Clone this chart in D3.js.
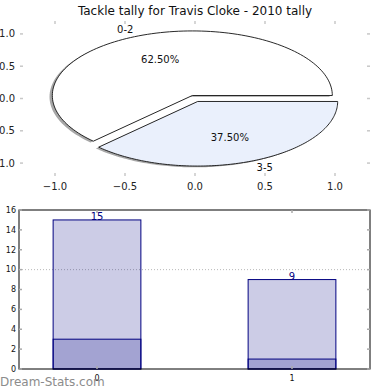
<!DOCTYPE html>
<html>
<head>
<meta charset="utf-8">
<script src="https://cdn.jsdelivr.net/npm/d3@7"></script>
<style>
html,body{margin:0;padding:0;background:#fff;}
svg{display:block;font-family:"DejaVu Sans",sans-serif;}
</style>
</head>
<body>
<svg id="chart" width="390" height="390"></svg>
<script>
const titleText = "Tackle tally for Travis Cloke - 2010 tally";
const pieLabels = ["0-2", "3-5"];
const pieValues = [62.5, 37.5];
const pieColors = ["#ffffff", "#eaf0fc"];
const pieTicks = [-1, -0.5, 0, 0.5, 1];

const barCategories = ["0", "1"];
const totalValues = [15, 9];
const lowerValues = [3, 1];
const referenceValue = 10;
const barYTicks = [0, 2, 4, 6, 8, 10, 12, 14, 16];
const watermark = "Dream-Stats.com";

const svg = d3.select("#chart");

// ---------- Pie (top) ----------
const px = d3.scaleLinear().domain([-1.25, 1.25]).range([20, 370]);
const py = d3.scaleLinear().domain([-1.2, 1.2]).range([176, 21]);

svg.append("text").attr("x", 195).attr("y", 14.5).attr("text-anchor", "middle")
  .attr("font-size", 12).attr("fill", "#111").text(titleText);

const arcs = d3.pie().sort(null).startAngle(0).endAngle(2 * Math.PI)(pieValues);
const total = d3.sum(pieValues);
const explode = 0.05;

function wedgePoints(a0, a1, cx, cy) {
  const n = 120;
  const pts = [[cx, cy]];
  for (let i = 0; i <= n; i++) {
    const t = a0 + (a1 - a0) * i / n;
    pts.push([cx + Math.cos(t), cy + Math.sin(t)]);
  }
  pts.push([cx, cy]);
  return pts;
}
const wedgeLine = d3.line().x(d => px(d[0])).y(d => py(d[1]));

const wedges = arcs.map((a, i) => {
  const mid = (a.startAngle + a.endAngle) / 2;
  const cx = explode * Math.cos(mid), cy = explode * Math.sin(mid);
  return {a, i, mid, cx, cy};
});

const defs = svg.append("defs");
defs.append("filter").attr("id", "soft").append("feGaussianBlur").attr("stdDeviation", 0.7);

// shadows
wedges.forEach(w => {
  svg.append("path")
    .attr("d", wedgeLine(wedgePoints(w.a.startAngle, w.a.endAngle, w.cx - 0.02, w.cy - 0.02)))
    .attr("fill", "#4d4d4d").attr("fill-opacity", 0.5).attr("filter", "url(#soft)");
});
// wedges
wedges.forEach(w => {
  svg.append("path")
    .attr("d", wedgeLine(wedgePoints(w.a.startAngle, w.a.endAngle, w.cx, w.cy)))
    .attr("fill", pieColors[w.i]).attr("stroke", "#111").attr("stroke-width", 0.9)
    .attr("stroke-linejoin", "miter");
});
// labels
wedges.forEach(w => {
  const lx = w.cx + 1.1 * Math.cos(w.mid), ly = w.cy + 1.1 * Math.sin(w.mid);
  svg.append("text").attr("x", px(lx)).attr("y", py(ly)).attr("dy", "0.35em")
    .attr("text-anchor", lx < 0 ? "end" : "start")
    .attr("font-size", 10).attr("fill", "#111").text(pieLabels[w.i]);
  const tx = w.cx + 0.6 * Math.cos(w.mid), ty = w.cy + 0.6 * Math.sin(w.mid);
  svg.append("text").attr("x", px(tx)).attr("y", py(ty)).attr("dy", "0.35em")
    .attr("text-anchor", "middle").attr("font-size", 10).attr("fill", "#111")
    .text(d3.format(".2f")(w.a.value / total * 100) + "%");
});

// pie axes ticks (no frame)
const fmt1 = d3.format(".1f");
const tickCol = "#c8c8c8";
pieTicks.forEach(t => {
  svg.append("line").attr("x1", px(t)).attr("x2", px(t)).attr("y1", 21).attr("y2", 24)
    .attr("stroke", tickCol).attr("stroke-width", 1.5);
  svg.append("line").attr("x1", px(t)).attr("x2", px(t)).attr("y1", 173).attr("y2", 176)
    .attr("stroke", tickCol).attr("stroke-width", 1.5);
  svg.append("line").attr("x1", 20).attr("x2", 23).attr("y1", py(t)).attr("y2", py(t))
    .attr("stroke", tickCol).attr("stroke-width", 1.5);
  svg.append("line").attr("x1", 367).attr("x2", 370).attr("y1", py(t)).attr("y2", py(t))
    .attr("stroke", tickCol).attr("stroke-width", 1.5);
  svg.append("text").attr("x", px(t)).attr("y", 186).attr("dy", "0.35em")
    .attr("text-anchor", "middle").attr("font-size", 10).attr("fill", "#222").text(fmt1(t));
  svg.append("text").attr("x", 15).attr("y", py(t)).attr("dy", "0.35em")
    .attr("text-anchor", "end").attr("font-size", 10).attr("fill", "#222").text(fmt1(t));
});

// ---------- Bars (bottom) ----------
const bx = d3.scaleLinear().domain([-0.4, 1.4]).range([19, 370]);
const by = d3.scaleLinear().domain([0, 16]).range([369, 210]);
const barW = 0.45;
const navy = "#000080";

// reference dotted line
svg.append("line").attr("x1", bx(-0.4)).attr("x2", bx(1.4))
  .attr("y1", by(referenceValue)).attr("y2", by(referenceValue))
  .attr("stroke", "#b8b8b8").attr("stroke-width", 1).attr("stroke-dasharray", "1,2");

barCategories.forEach((c, i) => {
  svg.append("rect").attr("x", bx(i - barW / 2)).attr("y", by(totalValues[i]))
    .attr("width", bx(i + barW / 2) - bx(i - barW / 2))
    .attr("height", by(0) - by(totalValues[i]))
    .attr("fill", navy).attr("fill-opacity", 0.2).attr("stroke", navy).attr("stroke-width", 1);
  svg.append("rect").attr("x", bx(i - barW / 2)).attr("y", by(lowerValues[i]))
    .attr("width", bx(i + barW / 2) - bx(i - barW / 2))
    .attr("height", by(0) - by(lowerValues[i]))
    .attr("fill", navy).attr("fill-opacity", 0.2).attr("stroke", navy).attr("stroke-width", 1);
  svg.append("text").attr("x", bx(i)).attr("y", by(totalValues[i]) + 0.5)
    .attr("text-anchor", "middle").attr("font-size", 10).attr("fill", navy).text(totalValues[i]);
});

// frame
svg.append("rect").attr("x", bx(-0.4)).attr("y", by(16))
  .attr("width", bx(1.4) - bx(-0.4)).attr("height", by(0) - by(16))
  .attr("fill", "none").attr("stroke", "#000").attr("stroke-width", 1);

const btCol = "#aaaaaa";
barYTicks.forEach(t => {
  svg.append("line").attr("x1", bx(-0.4)).attr("x2", bx(-0.4) + 3).attr("y1", by(t)).attr("y2", by(t))
    .attr("stroke", btCol).attr("stroke-width", 1.5);
  svg.append("line").attr("x1", bx(1.4) - 3).attr("x2", bx(1.4)).attr("y1", by(t)).attr("y2", by(t))
    .attr("stroke", btCol).attr("stroke-width", 1.5);
  svg.append("text").attr("x", 16).attr("y", by(t)).attr("dy", "0.35em")
    .attr("text-anchor", "end").attr("font-size", 8).attr("fill", "#111").text(t);
});
barCategories.forEach((c, i) => {
  svg.append("line").attr("x1", bx(i)).attr("x2", bx(i)).attr("y1", by(16)).attr("y2", by(16) + 3)
    .attr("stroke", btCol).attr("stroke-width", 1.5);
  svg.append("line").attr("x1", bx(i)).attr("x2", bx(i)).attr("y1", by(0) - 3).attr("y2", by(0))
    .attr("stroke", btCol).attr("stroke-width", 1.5);
  svg.append("text").attr("x", bx(i)).attr("y", 378).attr("dy", "0.35em")
    .attr("text-anchor", "middle").attr("font-size", 8).attr("fill", "#111").text(c);
});

svg.append("text").attr("x", 0).attr("y", 386).attr("font-size", 12)
  .attr("fill", "#8c8c8c").text(watermark);
</script>
</body>
</html>
